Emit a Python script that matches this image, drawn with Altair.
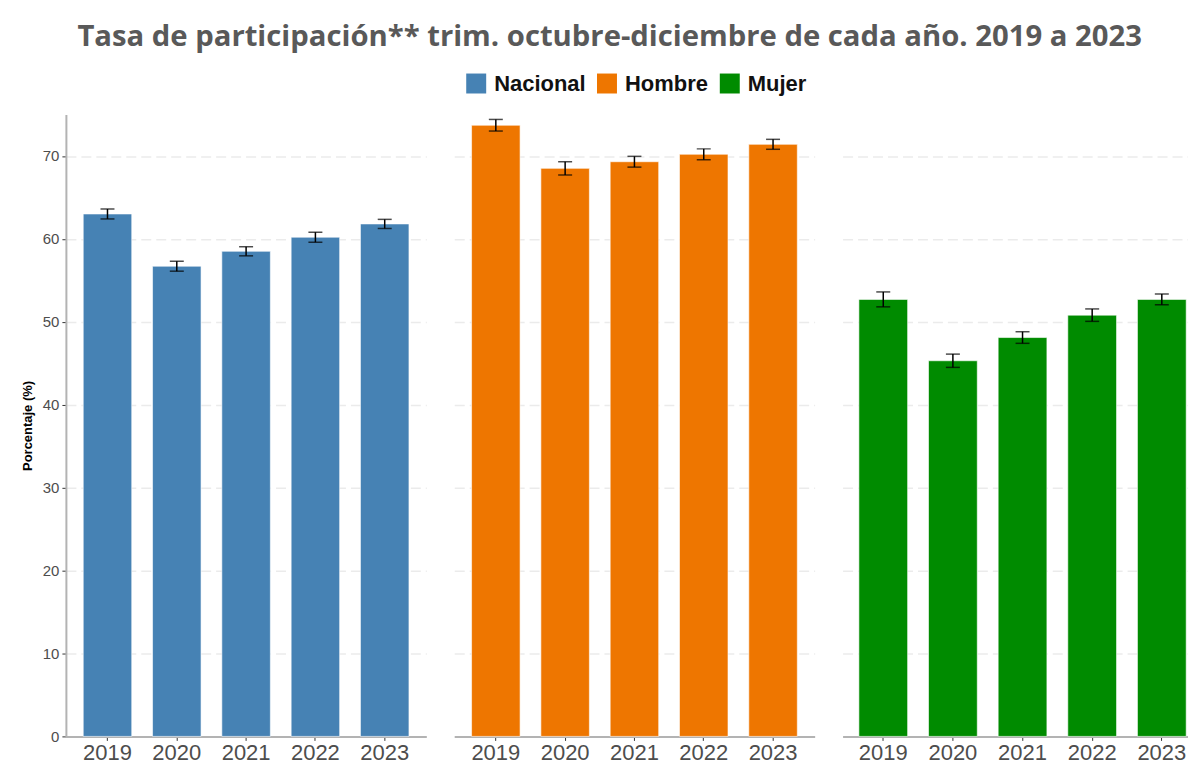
import altair as alt
import pandas as pd

# ---- data ----
grupos = ["Nacional", "Hombre", "Mujer"]
anios = ["2019", "2020", "2021", "2022", "2023"]
colores = ["#4682B4", "#EE7600", "#008B00"]

nacional = [63.0, 56.7, 58.5, 60.2, 61.8]
nacional_err = [0.6, 0.6, 0.55, 0.6, 0.55]
hombre = [73.7, 68.5, 69.3, 70.2, 71.4]
hombre_err = [0.7, 0.8, 0.65, 0.65, 0.6]
mujer = [52.7, 45.3, 48.1, 50.8, 52.7]
mujer_err = [0.9, 0.8, 0.7, 0.75, 0.65]

valores = {"Nacional": nacional, "Hombre": hombre, "Mujer": mujer}
errores = {"Nacional": nacional_err, "Hombre": hombre_err, "Mujer": mujer_err}

rows = []
for g in grupos:
    for a, v, e in zip(anios, valores[g], errores[g]):
        rows.append({"grupo": g, "anio": a, "valor": v, "lo": v - e, "hi": v + e})
df = pd.DataFrame(rows)

y_scale = alt.Scale(domain=[0, 75], nice=False)
PLOT_H = 623


def panel(grupo, width, xscale, show_y):
    x_enc = alt.X(
        "anio:N",
        sort=anios,
        title=None,
        scale=xscale,
        axis=alt.Axis(labelAngle=0, labelFontSize=22, labelColor="#4d4d4d",
                      labelFont="Liberation Sans", tickSize=4, tickColor="#333333",
                      labelPadding=2, domainColor="#b3b3b3", domainWidth=2, grid=False),
    )
    if show_y:
        y_axis = alt.Axis(values=[0, 10, 20, 30, 40, 50, 60, 70], labelFontSize=15,
                          labelColor="#4d4d4d", labelFont="Liberation Sans",
                          titleFontSize=13, titleFontWeight="bold", titleColor="#000000",
                          titleFont="Liberation Sans", titlePadding=8,
                          tickSize=4, tickColor="#333333", labelPadding=3,
                          domainColor="#b3b3b3", domainWidth=2,
                          grid=True, gridColor="#ebebeb", gridWidth=1.5, gridDash=[10, 5])
    else:
        y_axis = alt.Axis(values=[0, 10, 20, 30, 40, 50, 60, 70], labels=False, ticks=False,
                          domain=False, title=None,
                          grid=True, gridColor="#ebebeb", gridWidth=1.5, gridDash=[10, 5])

    base = alt.Chart(df).transform_filter(alt.datum.grupo == grupo)

    bars = base.mark_bar(stroke="white", strokeOpacity=0.6, strokeWidth=1).encode(
        x=x_enc,
        y=alt.Y("valor:Q", scale=y_scale,
                title="Porcentaje (%)" if show_y else None, axis=y_axis),
        color=alt.Color(
            "grupo:N",
            sort=grupos,
            scale=alt.Scale(domain=grupos, range=colores),
            legend=alt.Legend(
                title=None, orient="none", direction="horizontal",
                legendX=400, legendY=-42,
                symbolType="square", symbolSize=400, symbolStrokeWidth=0,
                symbolOpacity=1,
                labelFontSize=22, labelFontWeight="bold", labelColor="#111111",
                labelFont="Liberation Sans", columnPadding=10, labelOffset=7,
            ),
        ),
    )
    rule = base.mark_rule(color="black", strokeWidth=1.5).encode(
        x=alt.X("anio:N", sort=anios),
        y=alt.Y("lo:Q", scale=y_scale),
        y2="hi:Q",
    )
    cap_lo = base.mark_tick(color="black", thickness=1.5, size=14, orient="horizontal").encode(
        x=alt.X("anio:N", sort=anios),
        y=alt.Y("lo:Q", scale=y_scale),
    )
    cap_hi = base.mark_tick(color="black", thickness=1.5, size=14, orient="horizontal").encode(
        x=alt.X("anio:N", sort=anios),
        y=alt.Y("hi:Q", scale=y_scale),
    )
    return alt.layer(bars, rule, cap_lo, cap_hi).properties(width=width, height=PLOT_H)


p1 = panel("Nacional", 361, alt.Scale(paddingInner=0.3, paddingOuter=0.25), True)
p2 = panel("Hombre", 361, alt.Scale(paddingInner=0.3, paddingOuter=0.25), False)
p3 = panel("Mujer", 346, alt.Scale(paddingInner=0.3, paddingOuter=0.13, align=0.9), False)

chart = (
    alt.hconcat(p1, p2, p3, spacing=28)
    .resolve_scale(y="shared", color="shared")
    .properties(
        title=alt.TitleParams(
            "Tasa de participación** trim. octubre-diciembre de cada año. 2019 a 2023",
            anchor="middle", fontSize=29.3, font="Open Sans", fontWeight="bold",
            color="#595959", offset=20, dx=5,
        ),
        padding={"left": 13, "top": 14, "right": 0, "bottom": 0},
    )
    .configure_view(stroke=None)
)

chart.save("out.html", embed_options={"renderer": "svg", "actions": False})
